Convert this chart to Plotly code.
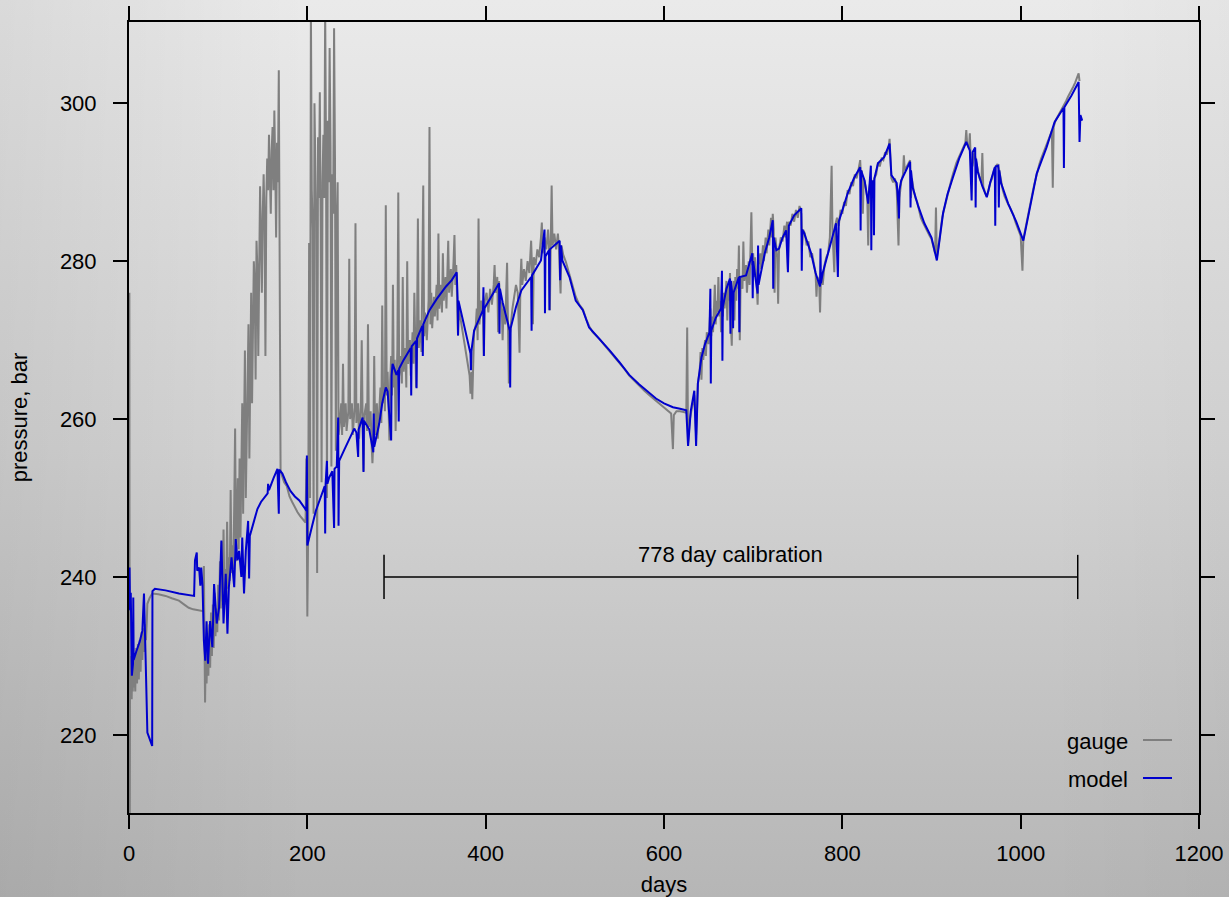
import base64
import plotly.graph_objects as go

# ---- gauge readings (day, pressure in bar) ----
gauge_day = [
    0, 0.4, 0.8, 1.2, 1.8, 2.4, 3, 3.6, 4.2, 4.8, 5.4, 6, 7, 8, 9, 10, 11, 12, 13, 14, 15, 16, 17, 18, 19, 20,
    20.6, 23, 26, 33, 41, 48, 56, 62, 67, 72, 77, 80, 82, 83.5, 84, 84.5, 85.3,
    86, 87, 88, 89, 90, 91, 92, 93, 94, 95, 96, 97, 98, 99, 100, 101, 102, 103, 104, 105, 106, 107, 108, 109,
    110, 111, 112, 113, 114, 115, 116, 117, 118, 119,
    120, 121, 122, 123, 124, 125, 127, 128, 130, 131, 133, 134, 135, 137, 138, 140, 141, 142, 143, 144, 145,
    146, 147, 148, 149, 150, 151, 152, 153, 154, 155, 156, 157, 158, 159, 160, 161, 162, 163, 164, 165, 166,
    167, 168, 169, 170,
    171, 174, 177, 180, 183, 186, 189, 192, 195, 198, 199, 200, 201,
    202, 203, 204, 205, 206, 207, 208, 209, 210, 211, 212, 213, 214, 215, 216, 217, 218, 219, 220, 221, 222,
    223, 224, 225, 226, 227, 228, 229, 230, 231, 232, 233, 234, 235,
    236, 238, 239, 240, 241, 243, 244, 246, 247, 248, 250, 251, 253, 254, 255, 257, 258, 260, 261, 262, 263,
    264, 266, 267, 268, 269, 271, 272, 273, 274, 275, 276, 278, 279, 281, 282, 283, 284, 285, 286, 287, 288,
    289, 290, 291, 292, 293, 294, 295, 296, 297, 298, 299, 300, 301, 302, 303, 305, 306, 307, 308, 310, 311,
    312, 313, 315, 316, 318, 319, 320, 321, 322, 323, 324, 325, 327, 328, 330, 331, 332, 334, 336, 337, 338,
    339, 340, 342, 343, 345, 346, 347, 348, 350, 351, 352, 353, 355, 356, 358, 359, 361, 362, 364, 365, 366,
    367, 368, 369, 370, 372, 374, 376, 378, 380, 382, 383, 384, 385, 386, 387, 389, 390, 391, 392, 393, 395,
    397, 398, 399, 401, 403, 405, 407, 409, 410, 411, 413, 414, 415, 416, 418, 419, 420, 422, 424, 425, 426,
    427, 428, 430, 432, 434, 436, 438, 439, 440, 441, 443, 445, 447, 449, 451, 452, 453, 454, 456, 458, 460,
    462, 463, 464, 466, 468, 470, 471, 472, 473, 474, 475, 477, 479, 481, 482, 484, 485, 487,
    490, 494, 498, 501, 505, 509, 513, 516, 520, 524, 528, 533, 539, 545, 550, 556, 561, 567, 572, 578, 584,
    591, 598, 604, 608, 610, 611, 614, 618, 622, 625, 626, 627, 629, 632, 634, 636, 638,
    640, 641, 642, 643, 644, 646, 647, 648, 650, 651, 652, 653, 654, 655, 656, 657, 658, 659, 660, 661, 662,
    663, 664, 665, 666, 667, 668, 670, 671, 672, 673, 674, 675, 676, 677, 678, 679, 680, 681, 682, 683, 684,
    685, 686, 688, 689, 690, 692, 693, 695, 696, 697, 698, 699, 700, 701, 702, 704, 705, 706, 708, 709, 711,
    712, 714, 715, 717, 718, 720, 721, 722, 723, 724, 725, 727, 728, 729, 731, 733, 735, 736, 738, 739, 740,
    742, 744, 746, 748, 750, 752, 754, 755, 756, 758, 760, 762, 764, 766, 768, 770, 771, 772, 774, 775, 776,
    778, 780, 782, 784, 786, 788, 789, 791, 792, 794, 796, 798, 800, 802, 804, 806, 808, 810, 812, 814, 816,
    818, 820, 821, 822, 823, 824, 826, 828, 829, 830, 832, 834, 836, 838, 840, 842, 844, 846, 848, 850, 852,
    853, 854, 855, 857, 859, 861, 863, 864, 866, 868, 869, 870, 872, 874, 876, 877, 878, 880, 882, 884, 886,
    888, 890, 892, 894, 896, 898, 900, 902, 904, 905, 906, 908, 910, 912, 914, 916, 918, 920, 922, 924, 926,
    928, 930, 932, 934, 936, 938, 939, 940, 942, 943, 944, 946, 948, 950, 952, 954, 956, 957, 958, 960, 962,
    964, 966, 968, 970, 972, 974, 976, 978, 980, 982, 984, 986, 988, 990, 992, 994, 996, 998, 1000, 1001,
    1002, 1003, 1005, 1007, 1009, 1011, 1013, 1015, 1017, 1019, 1021, 1023, 1025, 1027, 1029, 1031, 1033,
    1035, 1036, 1037, 1039, 1041, 1043, 1045, 1047, 1049, 1051, 1053, 1055, 1057, 1059, 1061, 1063, 1065,
    1066,
]
gauge_bar = [
    233, 276, 205, 229, 225, 230, 224.5, 229.5, 225.5, 231, 226, 230, 225.5, 231, 226.5, 231.5, 227, 232, 228,
    233, 229.5, 233.5, 230.5, 234, 232, 234.5,
    236.6, 237.3, 237.9, 237.8, 237.6, 237.3, 237, 236.5, 236.1, 235.9, 235.8, 235.8, 235.7, 235.8, 241.4,
    234, 224.1,
    230, 226.5, 232.5, 227.5, 234, 228.5, 235.5, 230, 236.5, 231, 238, 232.5, 236, 233, 239, 234.5, 242, 236,
    244.5, 237, 246, 238, 241, 236.5,
    247, 238.5, 242.5, 239.5, 251, 240.5, 244, 241, 249, 258.8,
    242, 246.5, 252.5, 243.5, 255, 245, 262, 248, 268.7, 250, 266.5, 272, 255, 276, 262, 280, 277, 265, 282.6,
    279, 268,
    284, 289.5, 283, 276, 286, 291, 285, 268, 288, 293, 289, 296, 291, 286, 294, 297, 289, 299.1, 292, 283,
    295,
    290, 304.2, 275, 253.5,
    253, 252, 251.5, 250.2, 249.5, 248.8, 248.2, 247.7, 247.3, 246.9, 255, 235, 246.5,
    282.3, 250, 312, 289, 284, 248, 300, 292, 285, 240.5, 295.7, 288, 301.4, 283.9, 252, 290, 296, 288, 312,
    292.8, 250,
    297.8, 290, 307, 294.4, 254, 291, 286, 309.5, 293, 256, 285, 290, 258,
    259, 262, 258, 267, 259, 262, 258.5, 261, 280.3, 260, 262, 258, 261.5, 284.8, 259.5, 262, 257.5, 261.5,
    270, 260, 253.4,
    260.5, 262, 258.5, 272, 259, 261, 257, 254.4, 257, 268, 258, 262, 257.5, 261, 264, 259.5, 274.4, 262,
    264.5, 261, 287.1,
    263, 266, 262, 257.3, 265, 268, 263, 277, 264, 267.5, 258.5, 266, 269, 288.7, 265.5, 268, 264.5, 278, 266,
    269, 264,
    280, 267, 270, 265.5, 271, 267, 276, 268.5, 264, 271, 285.4, 269, 272.5, 268.5, 289.6, 270.5, 273.5, 270,
    275, 297, 272,
    276, 271.5, 275.5, 273, 277, 272.5, 283.5, 274, 277, 273.5, 281, 275, 278, 274, 282.6, 276, 279, 275.5,
    280, 283.3, 277,
    279.5, 275, 270.6, 274, 272.5, 271, 269.5, 268, 266.5, 265.5, 263.2, 266, 262.5, 268, 271, 272, 274, 270,
    285.4, 272, 275,
    273, 268, 275, 276, 273.5, 276.5, 274.5, 277, 279.5, 276, 278, 271, 277.5, 275, 274.5, 270, 274, 272,
    279.8, 272, 264.5,
    270.5, 272, 274, 275.5, 277, 276, 268.4, 277.5, 280.3, 277, 279, 277.5, 280, 278.5, 282.6, 279, 272, 280.5,
    279.5, 281.5, 280.5,
    283, 284.9, 281, 283, 281.5, 284, 282, 273.8, 282.5, 289.6, 282, 283.5, 281.5, 283.5, 282, 275.9, 282,
    280.8,
    279.9, 278.3, 276.8, 275.5, 274.5, 273.9, 272.6, 271.8, 271, 270.6, 270.1, 269.4, 268.6, 267.8, 267.1,
    266.3, 265.5, 264.8, 264.2, 263.6, 263,
    262.3, 261.6, 261, 260.7, 256.2, 260.5, 261, 261, 260.9, 260.8, 271.6, 257, 260, 262, 263, 258, 264.5,
    266, 268.5, 265, 269, 267.5, 270, 268, 271, 269.5, 272.5, 274, 270.5, 273, 271, 274.5, 277, 272, 275,
    273.5, 278, 273,
    275, 271, 276.5, 273, 276, 274, 277.5, 272.5, 277, 275, 278.5, 272, 269.3, 275.5, 277.5, 272.5, 278, 275,
    279, 276.5, 282,
    270, 278, 276.5, 282.5, 277.5, 279.5, 276, 280, 277, 281.5, 286.2, 279.5, 281, 278, 280.5, 277, 274.5,
    279.5, 281, 279, 282,
    280, 283, 281, 284, 282, 285.5, 283, 286, 284, 276, 283, 280.5, 274.6, 281.5, 283, 282.5, 284.5, 283, 285,
    279, 285,
    284.5, 286, 285, 286.5, 285.5, 287, 286, 282, 284, 283.5, 282, 282.5, 280.5, 281, 279.5, 278.5, 275.5, 278,
    277.5, 273.5, 278,
    277, 279.5, 280.5, 281, 283, 292.1, 283.5, 278.6, 284.5, 285.5, 284.5, 286.5, 286, 287.5, 287, 289, 288.5,
    290, 289.5, 291, 290.5,
    291.5, 292.8, 290.5, 291.5, 286, 290.5, 289.5, 288, 282, 289, 290.5, 289.5, 290.5, 291, 292.5, 292, 293,
    292.8, 293.8, 293.5, 294.5,
    295.5, 293, 290.5, 290, 290.5, 289, 282, 288, 290, 291, 293.4, 291.5, 292, 292.5, 292.8, 288, 290.5, 289,
    288, 287.5, 286.5,
    285.5, 285, 284.5, 284, 283.5, 283.2, 282.8, 282, 281, 286.8, 280.5, 282, 284, 285.5, 286.5, 287.5, 288.5,
    289.5, 290.2, 291, 291.8,
    292.5, 293, 293.5, 294, 294.6, 295, 296.6, 294.8, 294.3, 296.2, 293, 292, 293.8, 292.5, 291.5, 290.5, 290,
    293.7, 289.5, 288.7, 288.2,
    289, 290, 290.5, 291.5, 292, 292.3, 291.5, 290.2, 289, 288.2, 287.6, 287.2, 286.8, 286.3, 285.8, 285,
    284.5, 283.8, 283.2, 280,
    278.8, 282.8, 284, 285.4, 286.5, 287.5, 288.5, 289.6, 290.6, 291.5, 292.3, 293, 293.6, 294.2, 294.7, 295.3,
    296,
    296.5, 289.3, 297, 297.8, 298.2, 298.7, 299, 299.4, 299.9, 300.3, 300.8, 301.2, 301.6, 302.1, 302.6, 303.1,
    303.8,
    302.8,
]

# ---- simulated pressure from the model ----
model_day = [
    0, 0.6, 1.2, 2, 3.2, 4.5, 4.8, 5.2, 8, 12, 15, 16.8, 18.7, 20.6, 26, 26.3, 29, 41, 56, 73, 74, 76, 76.5,
    78.6, 80, 81, 82.5, 84, 85.5, 87, 88.6, 91, 93.5, 95.4, 98.4, 101, 103.6, 106, 108.5, 110.4, 112, 115,
    118, 119.7, 121.6, 123.5, 126, 127, 129, 131, 133.6, 134.7, 135.5, 140, 144, 148, 153, 155.5, 156, 157,
    162, 166.5, 168, 168.5, 172, 176, 181, 186, 191, 195, 199, 199.5, 200, 205, 209.6, 215, 219.5, 220,
    220.5, 222, 222.5, 224.5, 228, 230, 230.5, 233, 234.6, 235, 235.7, 241, 247, 252.6, 255, 257, 257.5, 262,
    263, 263.5, 269.4, 274, 274.5, 275, 280.6, 284, 288, 290, 294, 294.5, 295.6, 300, 302, 302.5, 303, 308,
    316, 316.5, 317, 322, 322.5, 323, 329, 329.5, 330, 337, 345, 355.5, 362, 367.5, 368.5, 369, 369.5, 375,
    383, 383.5, 384, 387, 392, 397, 397.5, 398, 398.5, 406, 415, 415.5, 416, 419, 427, 427.5, 428, 434, 440,
    451, 451.5, 452, 462, 466, 466.5, 467, 471, 471.5, 472, 483, 483.5, 484.5, 486, 494, 501, 509, 516, 528,
    539, 550, 561, 572, 584, 591, 600, 610, 618, 625, 627, 630, 634, 636, 638, 642, 646, 651, 652, 652.5, 653,
    658, 664, 665, 665.5, 666, 670, 674, 674.5, 675, 677, 677.5, 678, 684, 684.5, 685, 692, 699, 699.5, 700,
    705, 705.5, 706, 713, 718, 722, 722.5, 723, 726, 729, 733, 737, 739, 740, 746, 754, 754.5, 755, 757, 765,
    770, 775, 775.5, 776, 778, 784, 793, 795, 796, 806, 813, 820, 820.5, 821, 825, 829, 832, 832.5, 833, 835,
    835.5, 836, 840, 847, 853, 855, 861, 863, 863.5, 864, 866, 876, 876.5, 877, 879, 885, 892, 900, 906, 913,
    918, 924, 931, 939, 943, 945, 946, 949, 949.5, 950, 952, 957, 962, 966, 971, 971.5, 972, 975, 975.5, 976,
    978, 986, 995, 1003, 1010, 1018, 1029, 1038, 1048, 1048.5, 1049, 1057, 1065, 1066, 1067, 1069,
]
model_bar = [
    236, 241.2, 235.8, 238, 227.5, 229, 237.4, 229.5, 230.5, 231.8, 233.2, 237.9, 229.4, 220.3, 218.6, 238.2,
    238.5, 238.3, 237.9, 237.6, 242.1, 243.1, 240.8,
    241.2, 238.9, 241.2, 238.9, 231.9, 229.4, 234.4, 229, 234.4, 231.1, 239.1, 234.1, 236.1, 244.6, 234.1,
    240.4, 232.8, 238.7, 242.5,
    238.7, 244.8, 242.1, 243.3, 240, 245, 237.9, 243.3, 247.1, 239.8, 245.2, 247, 248.6, 249.5, 250.3, 250.6,
    251.8, 251,
    252.5, 253.7, 248, 253.6, 253.1, 252, 250.9, 250.2, 249.7, 249, 248.4, 255.4, 244, 246.3, 248.4, 250.1,
    251.5, 245.5,
    251.8, 254.7, 251.8, 252.6, 253.4, 246.2, 253.7, 254, 260.2, 246.5, 254.7, 256, 257.5, 258.8, 258.3,
    255.2, 258.7, 260.2,
    253.3, 259.8, 258.7, 255.8, 260.7, 256.5, 259.4, 262, 264, 263.5, 257.3, 265.5, 267, 265.6, 266.2, 259.7,
    266.4, 267.5,
    269, 263, 269.2, 269.9, 263.9, 270.2, 271.8, 268, 272, 273.8, 275.2, 276.8, 277.6, 278.6, 275.4, 270.6,
    275, 272.2,
    268.3, 266.2, 268.6, 271.2, 272.6, 273.8, 276.7, 268, 274, 275.4, 277.2, 270.8, 276.5, 274.8, 271.2, 264,
    271.5, 274.2, 276.3,
    278, 271.2, 278.2, 280.1, 284, 273.4, 280.6, 281.4, 273.8, 281.5, 282.6, 277.6, 282, 280.1, 278, 275,
    273.8, 271.6, 270.1,
    268.7, 267.2, 265.6, 264.4, 263.3, 262.6, 262, 261.5, 261.3, 261.1, 256.6, 261, 263.6, 256.6, 264.5,
    267.8, 269.5, 271, 276.5, 264.5, 271.2,
    272.8, 274, 278.8, 267.4, 274.2, 276.5, 277.8, 270.8, 277.5, 275.4, 271.5, 276, 278, 271, 278, 278.2, 281,
    275.3, 280,
    275.9, 282, 277, 281, 283, 285.2, 276.5, 283, 281.4, 281.6, 283, 283.9, 278.6, 284.5, 285.8, 286.7, 278.8,
    284, 283.6, 281,
    278.5, 276.8, 281.6, 277.2, 278.5, 281, 284.8, 278, 285, 288.6, 290.5, 291.9, 283.9, 291.5, 290.2, 287.3,
    292.1, 281.4, 290, 290.2,
    283.3, 290.5, 292.4, 293.2, 294.9, 290.9, 289.9, 286.8, 285.4, 289, 290.2, 292.6, 286.8, 291.5, 289.3, 287,
    284.8, 283, 280.1, 286.1,
    288.5, 290.6, 293, 295.1, 294, 287.7, 293.8, 294.4, 286.8, 293, 291.3, 289.5, 288.1, 290, 291.9, 284.5,
    292, 292.1, 286.8, 291.5,
    289.9, 287.3, 285, 282.6, 286.4, 291.1, 294.4, 297.6, 299.4, 291.8, 299.5, 301, 302.7, 295.1, 298.5, 297.8,
]

# ---- axes and annotation ----
x_ticks = [0, 200, 400, 600, 800, 1000, 1200]
y_ticks = [220, 240, 260, 280, 300]
x_range = [0, 1200]
y_range = [210.1, 310.3]

calib_days = 778
calib_end = 1064
calib_start = calib_end - calib_days
calib_level = 240
calib_label = f"{calib_days} day calibration"

FONT = "Liberation Sans, Arial, Helvetica, sans-serif"
FS = 22
GAUGE_COLOR = "#7f7f7f"
MODEL_COLOR = "#0000cd"

W, H = 1229, 897
ML, MR, MT, MB = 129, 30, 22, 84
PW, PH = W - ML - MR, H - MT - MB

# soft grey page gradient drawn behind everything
svg = (
    f"<svg xmlns='http://www.w3.org/2000/svg' width='{W}' height='{H}' preserveAspectRatio='none'>"
    "<defs>"
    "<linearGradient id='v' x1='0' y1='0' x2='0' y2='1'>"
    "<stop offset='0' stop-color='#eaeaea'/>"
    "<stop offset='0.5' stop-color='#d4d4d4'/>"
    "<stop offset='1' stop-color='#b6b6b6'/>"
    "</linearGradient>"
    "<linearGradient id='h' x1='0' y1='0' x2='1' y2='0'>"
    "<stop offset='0' stop-color='#000' stop-opacity='0.07'/>"
    "<stop offset='0.25' stop-color='#000' stop-opacity='0'/>"
    "<stop offset='0.85' stop-color='#000' stop-opacity='0'/>"
    "<stop offset='1' stop-color='#000' stop-opacity='0.025'/>"
    "</linearGradient>"
    "</defs>"
    f"<rect width='{W}' height='{H}' fill='url(#v)'/>"
    f"<rect width='{W}' height='{H}' fill='url(#h)'/>"
    "</svg>"
)
bg_uri = "data:image/svg+xml;base64," + base64.b64encode(svg.encode()).decode()

fig = go.Figure()
fig.add_trace(go.Scatter(
    x=gauge_day, y=gauge_bar, mode="lines", name="gauge",
    line=dict(color=GAUGE_COLOR, width=2), showlegend=False, hoverinfo="skip",
))
fig.add_trace(go.Scatter(
    x=model_day, y=model_bar, mode="lines", name="model",
    line=dict(color=MODEL_COLOR, width=2), showlegend=False, hoverinfo="skip",
))

# calibration bracket
tick_half = 2.8
shapes = [
    dict(type="line", xref="x", yref="y", x0=calib_start, x1=calib_end, y0=calib_level, y1=calib_level,
         line=dict(color="black", width=1.5)),
    dict(type="line", xref="x", yref="y", x0=calib_start, x1=calib_start,
         y0=calib_level - tick_half, y1=calib_level + tick_half, line=dict(color="black", width=1.5)),
    dict(type="line", xref="x", yref="y", x0=calib_end, x1=calib_end,
         y0=calib_level - tick_half, y1=calib_level + tick_half, line=dict(color="black", width=1.5)),
]


def px_x(p):
    return (p - ML) / PW


def px_y(p):
    return (H - MB - p) / PH


# key in the lower right corner: label first, then the line sample
key_items = [("gauge", GAUGE_COLOR, 740), ("model", MODEL_COLOR, 778)]
annotations = [
    dict(x=(calib_start + calib_end) / 2, y=242.9, xref="x", yref="y", text=calib_label, showarrow=False,
         xanchor="center", yanchor="middle", font=dict(family=FONT, size=FS, color="black")),
]
for label, color, ypx in key_items:
    shapes.append(dict(type="line", xref="paper", yref="paper", x0=px_x(1143), x1=px_x(1172),
                       y0=px_y(ypx), y1=px_y(ypx), line=dict(color=color, width=2)))
    annotations.append(dict(x=px_x(1130), y=px_y(ypx + 1), xref="paper", yref="paper", text=label,
                            showarrow=False, xanchor="right", yanchor="middle",
                            font=dict(family=FONT, size=FS, color="black")))

axis_common = dict(
    showline=True, linecolor="black", linewidth=2, mirror="allticks",
    ticks="outside", ticklen=14, tickwidth=2, tickcolor="black",
    showgrid=False, zeroline=False, automargin=False,
    tickfont=dict(family=FONT, size=FS, color="black"),
)

fig.update_layout(
    width=W, height=H,
    margin=dict(l=ML, r=MR, t=MT, b=MB, autoexpand=False),
    paper_bgcolor="#d2d2d2",
    plot_bgcolor="rgba(0,0,0,0)",
    font=dict(family=FONT, size=FS, color="black"),
    xaxis=dict(range=x_range, tickvals=x_ticks, ticktext=[str(v) for v in x_ticks],
               title=dict(text="days", standoff=12, font=dict(family=FONT, size=FS)),
               ticklabelstandoff=6, **axis_common),
    yaxis=dict(range=y_range, tickvals=y_ticks, ticktext=[str(v) for v in y_ticks],
               title=dict(text="pressure, bar", standoff=26, font=dict(family=FONT, size=FS)),
               ticklabelstandoff=12, **axis_common),
    shapes=shapes,
    annotations=annotations,
    images=[dict(source=bg_uri, xref="paper", yref="paper", x=-ML / PW, y=1 + MT / PH,
                 sizex=W / PW, sizey=H / PH, sizing="stretch", xanchor="left", yanchor="top",
                 layer="below")],
)

fig.write_html("out.html")
